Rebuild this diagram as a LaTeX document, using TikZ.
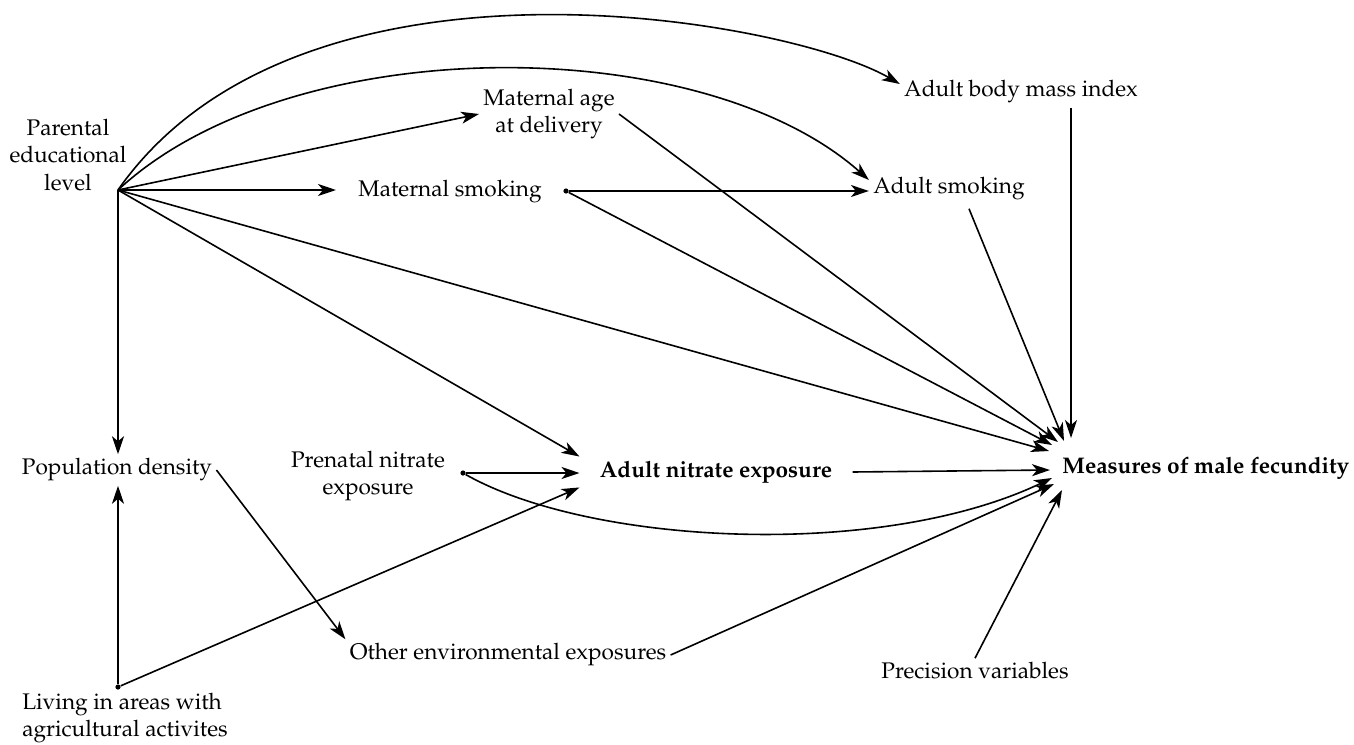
\documentclass[tikz,border=0pt]{standalone}
\usepackage[T1]{fontenc}
\usepackage{mathpazo}
\usetikzlibrary{arrows.meta}
\begin{document}
\begin{tikzpicture}[
  x=0.5pt, y=-0.5pt,
  font=\fontsize{11.3}{13.7}\selectfont,
  lbl/.style={inner sep=2pt},
  dot/.style={circle, fill, inner sep=0pt, minimum size=2.6pt},
  arr/.style={line width=0.8pt, -{Stealth[length=9pt, width=6pt, inset=2.5pt]}}
]
\useasboundingbox (0,0) rectangle (1354,744);

\node[lbl, align=center] (pel) at (68,155) {Parental\\educational\\level};
\coordinate (hub) at (118,190);
\node[lbl, align=center] (mage) at (549,114) {Maternal age\\at delivery};
\node[lbl] (bmi) at (1021,92) {Adult body mass index};
\node[lbl, inner xsep=11pt] (msmk) at (450,192) {Maternal smoking};
\node[dot] (msmkd) at (566,191) {};
\node[lbl] (asmk) at (949,189) {Adult smoking};
\node[lbl] (popd) at (117,470) {Population density};
\node[lbl, align=center] (pne) at (368,476) {Prenatal nitrate\\exposure};
\node[dot] (pned) at (463,473) {};
\node[lbl, inner xsep=10pt] (ani) at (716,472) {\textbf{Adult nitrate exposure}};
\node[inner sep=0pt, anchor=west] (mf) at (1062,468) {\textbf{Measures of male fecundity}};
\node[lbl] (oenv) at (508,655) {Other environmental exposures};
\node[lbl] (prec) at (975,671) {Precision variables};
\node[lbl, align=left] (liv) at (125,718) {Living in areas with\\agricultural activites};
\node[dot] (livd) at (118,687) {};

\draw[arr] (hub) .. controls (300,-70) and (790,20) .. ([shift={(0,-8)}]bmi.west);
\draw[arr] (hub) .. controls (290,30) and (700,30) .. ([shift={(0,-9)}]asmk.west);
\draw[arr] (hub) -- (mage.west);
\draw[arr] (hub) -- (hub -| msmk.west);
\draw[arr] (hub) -- (ani.north west);
\draw[arr] (hub) -- ([shift={(-13,-17)}]mf.west);
\draw[arr] (hub) -- (hub |- popd.north);

\draw[arr] (mage.east) -- ([shift={(-4,-26)}]mf.west);
\draw[arr] (msmkd) -- (msmkd -| asmk.west);
\draw[arr] (msmkd) -- ([shift={(-10,-23)}]mf.west);
\draw[arr] ([shift={(50,0)}]bmi.south) -- ([shift={(9,-30)}]mf.west);
\draw[arr] ([shift={(20,4)}]asmk.south) -- ([shift={(2,-27)}]mf.west);

\draw[arr] (popd.east) -- (oenv.north west);
\draw[arr] (livd) -- (livd |- popd.south);
\draw[arr] (livd) -- (ani.south west);
\draw[arr] (pned) -- (pned -| ani.west);
\draw[arr] (pned) .. controls (590,545) and (880,560) .. ([shift={(-10,10)}]mf.west);
\draw[arr] (ani.east) -- ([shift={(-12,2)}]mf.west);
\draw[arr] (oenv.east) -- ([shift={(-8,16)}]mf.west);
\draw[arr] (prec.north) -- ([shift={(0,22)}]mf.west);
\end{tikzpicture}
\end{document}
